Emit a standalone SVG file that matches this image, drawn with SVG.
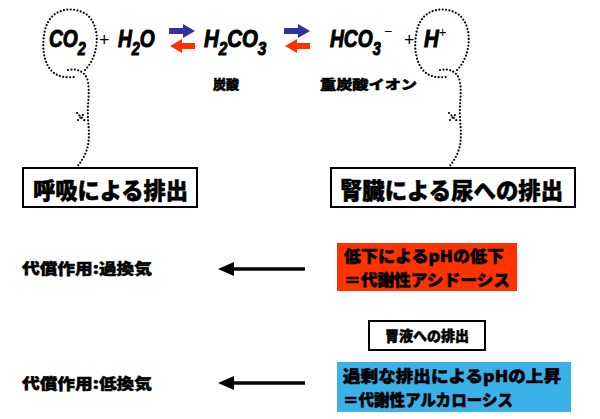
<svg xmlns="http://www.w3.org/2000/svg" width="600" height="419" viewBox="0 0 600 419">
<style>
.jp{font-family:"Noto Sans CJK JP","Noto Sans",sans-serif;font-weight:900;fill:#000;stroke:#000;stroke-width:0.5}
.chem{font-family:"Liberation Sans","DejaVu Sans",sans-serif;font-weight:bold;font-style:italic;font-size:24px;fill:#000;stroke:#000;stroke-width:1}
.sub{font-size:18px}
.plus{font-family:"Liberation Sans",sans-serif;font-weight:normal;fill:#000;stroke:none}
.dot{fill:none;stroke:#000;stroke-width:2.2;stroke-linecap:round;stroke-dasharray:0 3.4}
.box{fill:#fff;stroke:#000;stroke-width:2}
.arr{stroke:#000;stroke-width:3.5}
</style>
<defs>
<g id="loop">
<path class="dot" d="M85,70 C100,55 101,25 86,14 C71,5 50,9 45,30 C40,52 46,72 60,76 C66,78 72,77 76,77"/>
<path class="dot" d="M68,70 C78,68 86,72 88,82 C90,95 87,105 88,118 C89,135 92,150 76,168"/>
<path class="dot" d="M77,113 L85,121 M78,120 L84,114"/>
</g>
</defs>
<g id="equation">
<g transform="translate(49,47) scale(0.8,1)"><text class="chem">CO<tspan class="sub" dy="8">2</tspan></text></g>
<text class="plus" x="99" y="46" font-size="18">+</text>
<g transform="translate(118,47) scale(0.8,1)"><text class="chem">H<tspan class="sub" dy="8">2</tspan><tspan dy="-8">O</tspan></text></g>
<g transform="translate(204,47) scale(0.85,1)"><text class="chem">H<tspan class="sub" dy="8">2</tspan><tspan dy="-8">CO</tspan><tspan class="sub" dy="8">3</tspan></text></g>
<g transform="translate(330,47) scale(0.8,1)"><text class="chem">HCO<tspan class="sub" dy="8">3</tspan></text></g>
<text class="plus" x="384" y="36" font-size="14">−</text>
<text class="plus" x="404" y="46" font-size="18">+</text>
<g transform="translate(424,47) scale(0.85,1)"><text class="chem">H<tspan class="plus" font-size="15" dy="-10">+</tspan></text></g>
</g>
<g id="eq-arrows">
<polygon fill="#33339e" points="169,28 183,28 183,24 195,31 183,38 183,34 169,34"/>
<polygon fill="#ff3300" points="195,43 182,43 182,39 170,46 182,53 182,49 195,49"/>
<polygon fill="#33339e" points="284,28 298,28 298,24 310,31 298,38 298,34 284,34"/>
<polygon fill="#ff3300" points="310,43 297,43 297,39 285,46 297,53 297,49 310,49"/>
</g>
<g id="labels">
<text class="jp" x="213" y="89" font-size="13">炭酸</text>
<text class="jp" x="320" y="89" font-size="13" textLength="97" lengthAdjust="spacingAndGlyphs">重炭酸イオン</text>
</g>
<g id="connectors">
<use href="#loop"/>
<use href="#loop" transform="translate(372,0)"/>
<g id="arrow1">
<line class="arr" x1="305" y1="269" x2="232" y2="269"/>
<polygon points="218,269 234,262 234,276" fill="#000"/>
</g>
<g id="arrow2">
<line class="arr" x1="305" y1="383" x2="232" y2="383"/>
<polygon points="218,383 234,376 234,390" fill="#000"/>
</g>
</g>
<g id="node-respiration">
<rect class="box" x="23" y="168" width="174" height="39"/>
<text class="jp" x="33" y="199" font-size="23" textLength="155" lengthAdjust="spacingAndGlyphs">呼吸による排出</text>
</g>
<g id="node-kidney">
<rect class="box" x="331" y="168" width="244" height="39"/>
<text class="jp" x="340" y="199" font-size="23" textLength="223" lengthAdjust="spacingAndGlyphs">腎臓による尿への排出</text>
</g>
<g id="node-hyper">
<text class="jp" x="22" y="274" font-size="15" textLength="130" lengthAdjust="spacingAndGlyphs">代償作用:過換気</text>
</g>
<g id="node-acidosis">
<rect x="337" y="243" width="180" height="48" fill="#ff3300"/>
<text class="jp" font-size="16"><tspan x="344" y="262" textLength="160" lengthAdjust="spacingAndGlyphs">低下によるpHの低下</tspan><tspan x="344" y="286" textLength="166" lengthAdjust="spacingAndGlyphs">＝代謝性アシドーシス</tspan></text>
</g>
<g id="node-gastric">
<rect class="box" x="369" y="321" width="116" height="29"/>
<text class="jp" x="427" y="341" font-size="14" text-anchor="middle">胃液への排出</text>
</g>
<g id="node-hypo">
<text class="jp" x="22" y="389" font-size="15" textLength="130" lengthAdjust="spacingAndGlyphs">代償作用:低換気</text>
</g>
<g id="node-alkalosis">
<rect x="337" y="362" width="234" height="50" fill="#3bb1ea"/>
<text class="jp" font-size="16"><tspan x="343" y="382" textLength="218" lengthAdjust="spacingAndGlyphs">過剰な排出によるpHの上昇</tspan><tspan x="343" y="406" textLength="170" lengthAdjust="spacingAndGlyphs">＝代謝性アルカローシス</tspan></text>
</g>
</svg>
